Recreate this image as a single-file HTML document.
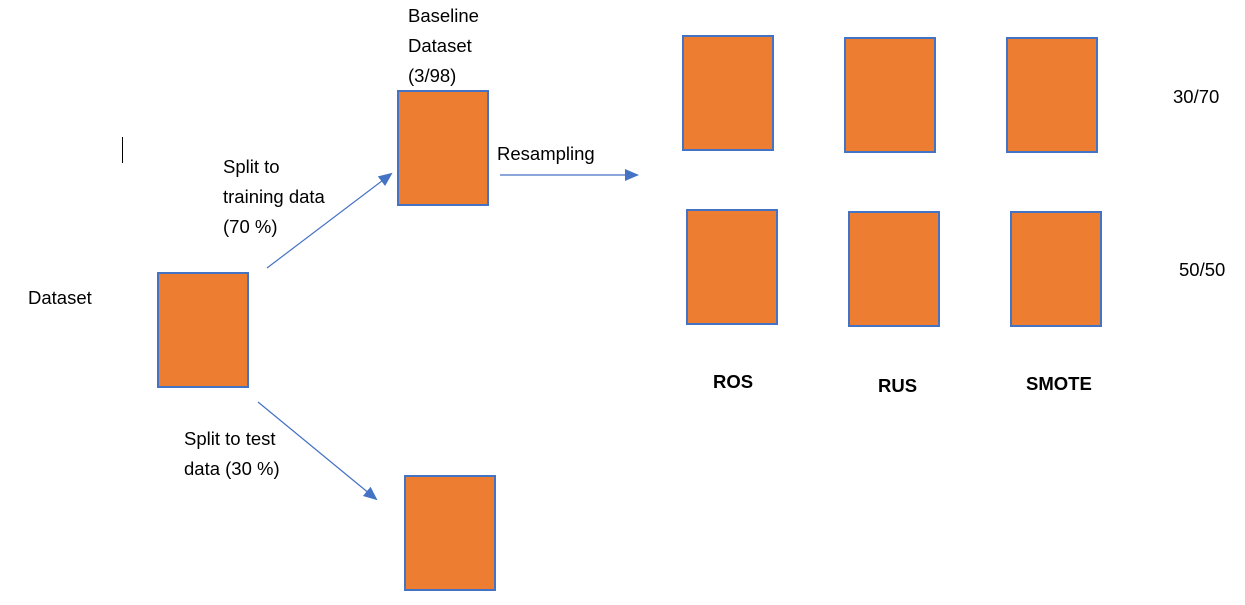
<!DOCTYPE html>
<html><head><meta charset="utf-8"><style>
body{margin:0;width:1245px;height:605px;background:#fff;position:relative;overflow:hidden;font-family:"Liberation Sans",sans-serif;font-size:18.5px;color:#000}
.b{position:absolute;width:88px;height:112px;background:#ED7D31;border:2px solid #4472C4;box-sizing:content-box}
.t{position:absolute;line-height:30px;white-space:nowrap}
.bold{font-weight:bold}
</style></head><body>
<div class="b" style="left:157px;top:272px"></div>
<div class="b" style="left:397px;top:90px"></div>
<div class="b" style="left:404px;top:475px"></div>
<div class="b" style="left:682px;top:35px"></div>
<div class="b" style="left:844px;top:37px"></div>
<div class="b" style="left:1006px;top:37px"></div>
<div class="b" style="left:686px;top:209px"></div>
<div class="b" style="left:848px;top:211px"></div>
<div class="b" style="left:1010px;top:211px"></div>
<div style="position:absolute;left:122px;top:137px;width:1px;height:26px;background:#000"></div>
<div class="t" style="left:408px;top:1px">Baseline<br>Dataset<br>(3/98)</div>
<div class="t" style="left:223px;top:152px">Split to<br>training data<br>(70 %)</div>
<div class="t" style="left:497px;top:139px">Resampling</div>
<div class="t" style="left:28px;top:283px">Dataset</div>
<div class="t" style="left:184px;top:424px">Split to test<br>data (30 %)</div>
<div class="t" style="left:1173px;top:82px">30/70</div>
<div class="t" style="left:1179px;top:255px">50/50</div>
<div class="t bold" style="left:713px;top:367px">ROS</div>
<div class="t bold" style="left:878px;top:371px">RUS</div>
<div class="t bold" style="left:1026px;top:369px">SMOTE</div>
<svg width="1245" height="605" style="position:absolute;left:0;top:0">
<defs><marker id="a" markerWidth="14" markerHeight="12" refX="12" refY="6" orient="auto" markerUnits="userSpaceOnUse"><path d="M0,0 L14,6 L0,12 z" fill="#4472C4"/></marker></defs>
<g stroke="#4472C4" stroke-width="1.2" fill="none">
<line x1="267" y1="268" x2="391" y2="174" marker-end="url(#a)"/>
<line x1="500" y1="175" x2="637" y2="175" marker-end="url(#a)"/>
<line x1="258" y1="402" x2="376" y2="499" marker-end="url(#a)"/>
</g></svg>
</body></html>
